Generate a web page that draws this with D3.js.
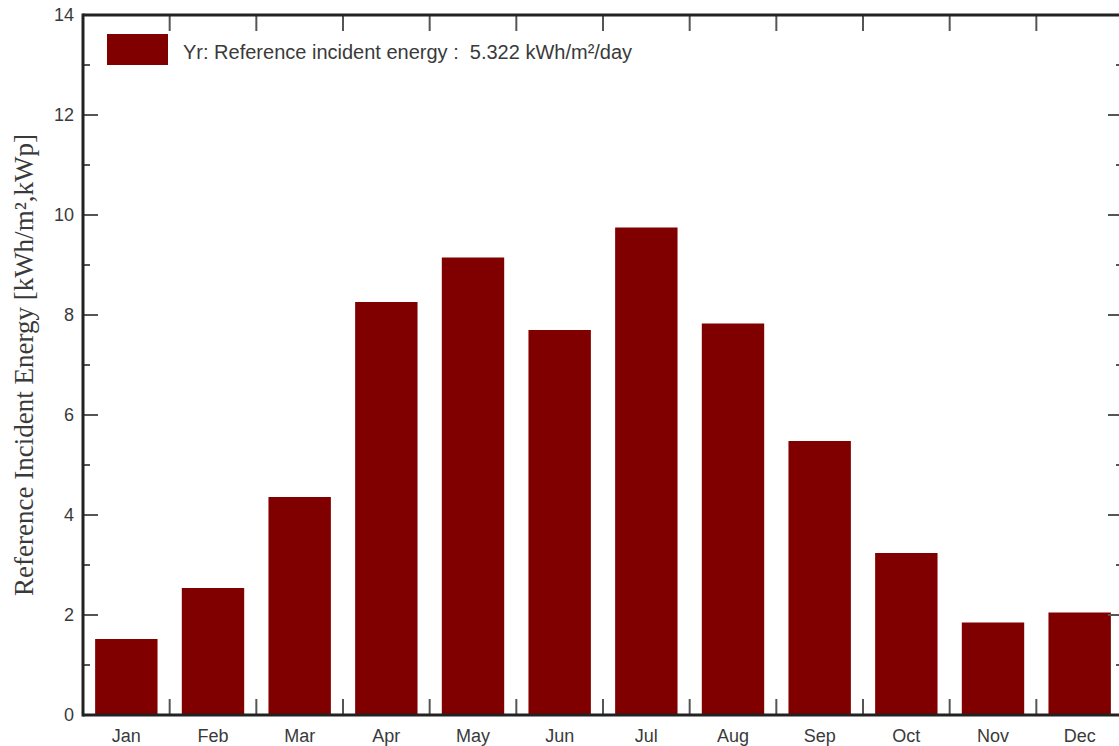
<!DOCTYPE html>
<html>
<head>
<meta charset="utf-8">
<script src="https://cdn.jsdelivr.net/npm/d3@7"></script>
<style>
  html, body { margin: 0; padding: 0; background: #fff; }
  svg { display: block; }
</style>
</head>
<body>
<svg id="chart" width="1119" height="746"></svg>
<script>
// Monthly reference incident energy
const months = ["Jan","Feb","Mar","Apr","May","Jun","Jul","Aug","Sep","Oct","Nov","Dec"];
const energy = [1.52, 2.54, 4.36, 8.26, 9.15, 7.70, 9.75, 7.83, 5.48, 3.24, 1.85, 2.05];
const yMajorTicks = [0, 2, 4, 6, 8, 10, 12, 14];
const yMinorTicks = [1, 3, 5, 7, 9, 11, 13];
const legendLabel = "Yr: Reference incident energy :  5.322 kWh/m\u00B2/day";
const yTitle = "Reference Incident Energy [kWh/m\u00B2,kWp]";

const svg = d3.select("#chart");
const plot = { left: 83, right: 1123, top: 15, bottom: 715 };

const x = d3.scaleBand().domain(months).range([plot.left, plot.right]).paddingInner(0.28).paddingOuter(0.14);
const y = d3.scaleLinear().domain([0, 14]).range([plot.bottom, plot.top]);

const textColor = "#3a3a3a";
const font = "'Liberation Sans', Arial, sans-serif";

// bars
svg.append("g").selectAll("rect").data(energy).join("rect")
  .attr("x", (d, i) => x(months[i]))
  .attr("y", d => y(d))
  .attr("width", x.bandwidth())
  .attr("height", d => y(0) - y(d))
  .attr("fill", "#800000");

// band boundaries for the x ticks
const bandWidth = (plot.right - plot.left) / months.length;
const boundaries = d3.range(1, months.length).map(i => plot.left + i * bandWidth);

const tickColor = "#555";
const ticks = svg.append("g").attr("stroke", tickColor).attr("stroke-width", 2);
// bottom ticks (pointing up) and top ticks (pointing down)
ticks.selectAll(".bt").data(boundaries).join("line").attr("class", "bt")
  .attr("x1", d => d).attr("x2", d => d).attr("y1", plot.bottom).attr("y2", plot.bottom - 16);
ticks.selectAll(".tt").data(boundaries).join("line").attr("class", "tt")
  .attr("x1", d => d).attr("x2", d => d).attr("y1", plot.top).attr("y2", plot.top + 16);

// left and right y ticks (inward)
ticks.selectAll(".lM").data(yMajorTicks).join("line").attr("class", "lM")
  .attr("x1", plot.left).attr("x2", plot.left + 15).attr("y1", d => y(d)).attr("y2", d => y(d));
ticks.selectAll(".lm").data(yMinorTicks).join("line").attr("class", "lm")
  .attr("x1", plot.left).attr("x2", plot.left + 7).attr("y1", d => y(d)).attr("y2", d => y(d));
ticks.selectAll(".rM").data(yMajorTicks).join("line").attr("class", "rM")
  .attr("x1", plot.right).attr("x2", plot.right - 15).attr("y1", d => y(d)).attr("y2", d => y(d));
ticks.selectAll(".rm").data(yMinorTicks).join("line").attr("class", "rm")
  .attr("x1", plot.right).attr("x2", plot.right - 7).attr("y1", d => y(d)).attr("y2", d => y(d));

// frame
const frame = svg.append("g").attr("stroke", "#222").attr("stroke-width", 3).attr("fill", "none");
frame.append("line").attr("x1", plot.left).attr("x2", plot.left).attr("y1", plot.top - 1.5).attr("y2", plot.bottom + 1.5);
frame.append("line").attr("x1", plot.left).attr("x2", plot.right).attr("y1", plot.top).attr("y2", plot.top);
frame.append("line").attr("x1", plot.left).attr("x2", plot.right).attr("y1", plot.bottom).attr("y2", plot.bottom);
frame.append("line").attr("x1", plot.right).attr("x2", plot.right).attr("y1", plot.top).attr("y2", plot.bottom);

// y tick labels
svg.append("g").selectAll("text").data(yMajorTicks).join("text")
  .attr("x", plot.left - 9).attr("y", d => y(d)).attr("dy", "0.35em")
  .attr("text-anchor", "end").attr("font-family", font).attr("font-size", 18)
  .attr("fill", textColor).text(d => d);

// x tick labels
svg.append("g").selectAll("text").data(months).join("text")
  .attr("x", d => x(d) + x.bandwidth() / 2).attr("y", plot.bottom + 27)
  .attr("text-anchor", "middle").attr("font-family", font).attr("font-size", 18)
  .attr("fill", textColor).text(d => d);

// y axis title
svg.append("text")
  .attr("transform", `translate(33, ${(plot.top + plot.bottom) / 2}) rotate(-90)`)
  .attr("text-anchor", "middle").attr("font-family", "'Liberation Serif', 'Times New Roman', serif")
  .attr("font-size", 27).attr("fill", textColor).text(yTitle);

// legend
svg.append("rect").attr("x", 107).attr("y", 34).attr("width", 61).attr("height", 31).attr("fill", "#800000");
svg.append("text").attr("x", 183).attr("y", 52).attr("dy", "0.35em")
  .attr("font-family", font).attr("font-size", 20).attr("fill", textColor)
  .style("white-space", "pre").text(legendLabel);
</script>
</body>
</html>
